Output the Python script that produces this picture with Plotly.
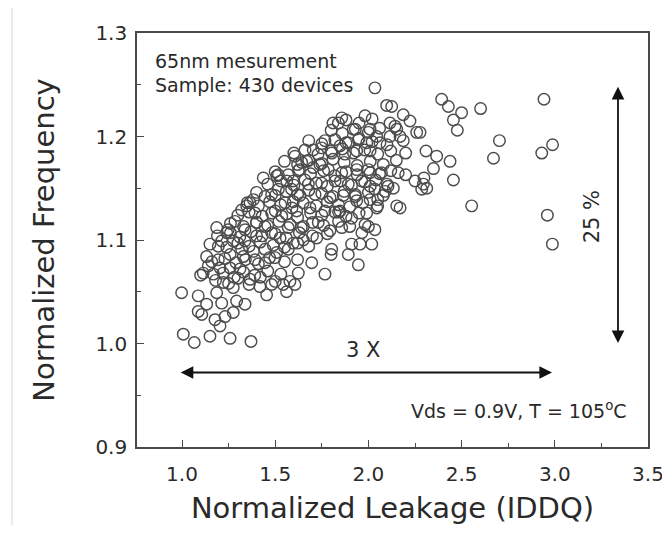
import plotly.graph_objects as go

# ---- data (normalized leakage, normalized frequency) ----
outlier_leak = [2.393, 2.429, 2.500, 2.456, 2.477, 2.602, 2.942, 2.703, 2.671, 2.988, 2.930,
                2.438, 2.456, 2.349, 2.309, 2.366, 2.298, 2.313, 2.277, 2.554, 2.960, 2.987]
outlier_freq = [1.236, 1.229, 1.223, 1.216, 1.206, 1.227, 1.236, 1.196, 1.179, 1.192, 1.184,
                1.176, 1.158, 1.169, 1.186, 1.181, 1.160, 1.150, 1.204, 1.133, 1.124, 1.096]

upper_leak = [2.035, 2.098, 2.125, 1.982, 1.857, 2.187, 2.223, 2.259, 2.143, 2.170, 2.187,
              2.250, 2.160, 2.134, 2.152, 2.170, 2.070, 1.910, 1.955, 2.018, 1.892, 1.946,
              1.840, 1.930, 2.050, 2.090, 2.105, 2.010, 2.000, 2.035, 1.965,
              1.839, 2.116, 2.152, 2.116, 1.919, 2.009, 2.045, 1.946, 1.991, 2.062, 1.892,
              1.848, 1.767, 1.749, 1.606, 1.669, 1.740, 1.803, 1.874, 1.937, 2.009,
              1.810, 1.704, 1.642, 1.508]
upper_freq = [1.247, 1.230, 1.229, 1.220, 1.218, 1.221, 1.215, 1.204, 1.210, 1.200, 1.196,
              1.157, 1.165, 1.150, 1.133, 1.131, 1.165, 1.096, 1.096, 1.096, 1.086, 1.076,
              1.127, 1.142, 1.139, 1.147, 1.152, 1.152, 1.113, 1.110, 1.107,
              1.213, 1.213, 1.207, 1.200, 1.207, 1.207, 1.200, 1.197, 1.194, 1.194, 1.194,
              1.191, 1.196, 1.189, 1.181, 1.176, 1.173, 1.184, 1.183, 1.186, 1.186,
              1.213, 1.187, 1.175, 1.162]

middle_leak = [1.624, 1.704, 1.785, 1.857, 1.937, 2.009, 2.295,
               1.597, 1.678, 1.749, 1.821, 1.892, 1.964, 2.035,
               1.633, 1.714, 1.794, 1.865, 1.937, 2.009, 2.045,
               1.615, 1.687, 1.767, 1.848, 1.910, 1.991, 1.982,
               1.651, 1.731, 1.794, 1.857, 1.723, 1.651, 1.597, 1.803, 2.286,
               1.436, 1.517, 1.562, 1.481, 1.445, 1.365, 1.320, 1.392, 1.481, 1.535,
               1.284, 1.338, 1.400, 1.445, 1.186, 1.248, 1.213, 1.275, 1.338, 1.400,
               1.195, 1.320, 1.383, 1.445, 1.508, 1.570, 1.481, 1.526, 1.570, 1.553,
               1.597, 1.588, 1.517, 1.347, 1.383, 1.240]
middle_freq = [1.167, 1.170, 1.168, 1.165, 1.168, 1.165, 1.154,
               1.157, 1.154, 1.155, 1.157, 1.154, 1.157, 1.149,
               1.143, 1.144, 1.141, 1.143, 1.138, 1.139, 1.131,
               1.128, 1.131, 1.128, 1.128, 1.121, 1.126, 1.115,
               1.113, 1.117, 1.109, 1.112, 1.102, 1.100, 1.097, 1.091, 1.149,
               1.160, 1.163, 1.157, 1.144, 1.142, 1.136, 1.129, 1.126, 1.126, 1.123,
               1.118, 1.110, 1.117, 1.113, 1.112, 1.110, 1.099, 1.099, 1.099, 1.104,
               1.094, 1.091, 1.089, 1.091, 1.088, 1.091, 1.107, 1.102, 1.112, 1.136,
               1.137, 1.149, 1.149, 1.133, 1.139, 1.107]

lower_leak = [0.998, 1.087, 1.007, 1.066, 1.150, 1.258, 1.370, 1.177, 1.204, 1.106, 1.087,
              1.132, 1.213, 1.293, 1.338, 1.275, 1.231, 1.186, 1.222, 1.275, 1.114, 1.168,
              1.141, 1.204, 1.258, 1.311, 1.365, 1.418, 1.454, 1.481, 1.543, 1.579, 1.561,
              1.132, 1.195, 1.258, 1.329, 1.392, 1.445, 1.499,
              1.767, 1.800, 1.696, 1.624, 1.606]
lower_freq = [1.049, 1.046, 1.009, 1.001, 1.007, 1.005, 1.002, 1.023, 1.017, 1.028, 1.031,
              1.038, 1.039, 1.041, 1.038, 1.030, 1.026, 1.049, 1.059, 1.054, 1.068, 1.067,
              1.075, 1.073, 1.073, 1.072, 1.062, 1.055, 1.047, 1.057, 1.057, 1.060, 1.050,
              1.084, 1.081, 1.086, 1.084, 1.081, 1.078, 1.083,
              1.067, 1.086, 1.078, 1.068, 1.057]

core_leak = [1.18, 1.25, 1.30, 1.36, 1.42, 1.50,
             1.10, 1.22, 1.28, 1.33, 1.39, 1.46, 1.53,
             1.16, 1.23, 1.29, 1.34, 1.41, 1.47, 1.55, 1.62,
             1.15, 1.24, 1.30, 1.36, 1.42, 1.49, 1.55, 1.62, 1.68,
             1.19, 1.26, 1.31, 1.37, 1.43, 1.50, 1.56, 1.63, 1.70, 1.78,
             1.26, 1.33, 1.40, 1.46, 1.52, 1.58, 1.64, 1.70, 1.76, 1.84, 1.90,
             1.30, 1.36, 1.43, 1.50, 1.56, 1.62, 1.69, 1.75, 1.82, 1.88, 1.95,
             1.35, 1.41, 1.47, 1.53, 1.59, 1.65, 1.72, 1.78, 1.84, 1.90, 1.97, 2.05,
             1.40, 1.50, 1.56, 1.62, 1.68, 1.75, 1.81, 1.87, 1.93, 2.00, 2.08,
             1.46, 1.53, 1.60, 1.66, 1.72, 1.78, 1.85, 1.91, 1.98, 2.04, 2.10,
             1.50, 1.57, 1.63, 1.69, 1.76, 1.82, 1.88, 1.94, 2.00, 2.06, 2.12, 2.20,
             1.55, 1.62, 1.68, 1.75, 1.81, 1.87, 1.94, 2.01, 2.08, 2.15,
             1.60, 1.66, 1.73, 1.80, 1.86, 1.92, 1.98, 2.05, 2.12, 2.20,
             1.68, 1.75, 1.82, 1.88, 1.95, 2.02, 2.10,
             1.80, 1.86, 1.93, 2.00, 2.06,
             1.88, 1.95, 2.02]
core_freq = [1.061, 1.058, 1.063, 1.057, 1.064, 1.060,
             1.066, 1.068, 1.064, 1.069, 1.066, 1.070, 1.067,
             1.079, 1.082, 1.078, 1.081, 1.077, 1.083, 1.079, 1.081,
             1.096, 1.093, 1.097, 1.094, 1.098, 1.095, 1.093, 1.097, 1.094,
             1.104, 1.107, 1.103, 1.108, 1.104, 1.106, 1.102, 1.107, 1.104, 1.106,
             1.116, 1.113, 1.117, 1.114, 1.118, 1.115, 1.112, 1.117, 1.114, 1.118, 1.113,
             1.124, 1.127, 1.123, 1.128, 1.125, 1.122, 1.126, 1.124, 1.127, 1.123, 1.126,
             1.136, 1.133, 1.137, 1.134, 1.131, 1.136, 1.133, 1.137, 1.134, 1.132, 1.136, 1.133,
             1.146, 1.143, 1.147, 1.144, 1.148, 1.145, 1.142, 1.147, 1.144, 1.146, 1.143,
             1.154, 1.157, 1.153, 1.158, 1.155, 1.152, 1.157, 1.153, 1.156, 1.158, 1.154,
             1.166, 1.163, 1.168, 1.164, 1.167, 1.162, 1.166, 1.163, 1.168, 1.164, 1.167, 1.163,
             1.176, 1.173, 1.177, 1.174, 1.178, 1.175, 1.172, 1.176, 1.173, 1.177,
             1.184, 1.187, 1.183, 1.186, 1.188, 1.184, 1.187, 1.183, 1.186, 1.184,
             1.196, 1.193, 1.197, 1.194, 1.198, 1.195, 1.192,
             1.206, 1.203, 1.207, 1.204, 1.208,
             1.216, 1.213, 1.217]

x_ticks = [1.0, 1.5, 2.0, 2.5, 3.0, 3.5]
y_ticks = [0.9, 1.0, 1.1, 1.2, 1.3]
x_range = [0.7586, 3.5]
y_range = [0.9, 1.3]

# annotation anchors (data units)
leak_span = [0.985, 2.985]
leak_span_y = 0.972
freq_span = [0.999, 1.248]
freq_span_x = 3.339

leak = outlier_leak + upper_leak + middle_leak + lower_leak + core_leak
freq = outlier_freq + upper_freq + middle_freq + lower_freq + core_freq

FONT = "DejaVu Sans"
INK = "#2a2a2a"
AX = "#4a4a4a"

fig = go.Figure()
fig.add_trace(go.Scatter(
    x=leak, y=freq, mode="markers",
    marker=dict(symbol="circle-open", size=11.5, color="#4c4c4c", line=dict(width=1.45)),
    showlegend=False, hoverinfo="skip"))

axis_common = dict(
    showline=True, linecolor=AX, linewidth=1.6, mirror=True,
    ticks="inside", ticklen=7, tickwidth=1.4, tickcolor=AX,
    showgrid=False, zeroline=False, tickformat=".1f", automargin=False,
    tickfont=dict(family=FONT, size=20, color=INK),
)

fig.update_xaxes(range=x_range, tickvals=x_ticks, **axis_common,
                 minor=dict(ticks="inside", ticklen=4, tickwidth=1.2, tickcolor=AX, dtick=0.25, tick0=0.75),
                 title=dict(text="Normalized Leakage (IDDQ)", font=dict(family=FONT, size=29, color=INK), standoff=18),
                 ticklabelstandoff=8)
fig.update_yaxes(range=y_range, tickvals=y_ticks, **axis_common,
                 minor=dict(ticks="inside", ticklen=4, tickwidth=1.2, tickcolor=AX, dtick=0.05, tick0=0.9),
                 title=dict(text="Normalized Frequency", font=dict(family=FONT, size=29, color=INK), standoff=32),
                 ticklabelstandoff=4)

annotations = [
    dict(x=0.844, y=1.273, text="65nm mesurement", xanchor="left", yanchor="middle"),
    dict(x=0.844, y=1.250, text="Sample: 430 devices", xanchor="left", yanchor="middle"),
    dict(x=1.971, y=0.994, text="3 X", xanchor="center", yanchor="middle", size=21),
    dict(x=3.20, y=1.122, text="25 %", xanchor="center", yanchor="middle", textangle=-90, size=21),
    dict(x=3.40, y=0.936, text="Vds = 0.9V, T = 105<sup>o</sup>C", xanchor="right", yanchor="middle"),
]
for a in annotations:
    size = a.pop("size", 19)
    fig.add_annotation(**a, xref="x", yref="y", showarrow=False,
                       font=dict(family=FONT, size=size, color=INK))

arrow_style = dict(showarrow=True, text="", arrowhead=2, startarrowhead=2, arrowside="end+start",
                   arrowsize=1.4, startarrowsize=1.4, arrowwidth=1.8, arrowcolor="#111111",
                   xref="x", yref="y", axref="x", ayref="y")
fig.add_annotation(x=leak_span[1], y=leak_span_y, ax=leak_span[0], ay=leak_span_y, **arrow_style)
fig.add_annotation(x=freq_span_x, y=freq_span[1], ax=freq_span_x, ay=freq_span[0], **arrow_style)

# light frame of the source picture
fig.add_shape(type="line", xref="paper", yref="paper", x0=-0.2446, x1=1.04, y0=1.0628, y1=1.0628,
              line=dict(color="#dcdcdc", width=1.2))
fig.add_shape(type="line", xref="paper", yref="paper", x0=-0.2446, x1=-0.2446, y0=1.0628, y1=-0.188,
              line=dict(color="#dcdcdc", width=1.2))

# the page adds an 8px body margin, so the figure is sized to fit inside the window
fig.update_layout(
    width=660, height=517,
    margin=dict(l=129, r=20, t=25, b=78),
    paper_bgcolor="white", plot_bgcolor="white",
    font=dict(family=FONT, color=INK),
)

fig.write_html("out.html")
